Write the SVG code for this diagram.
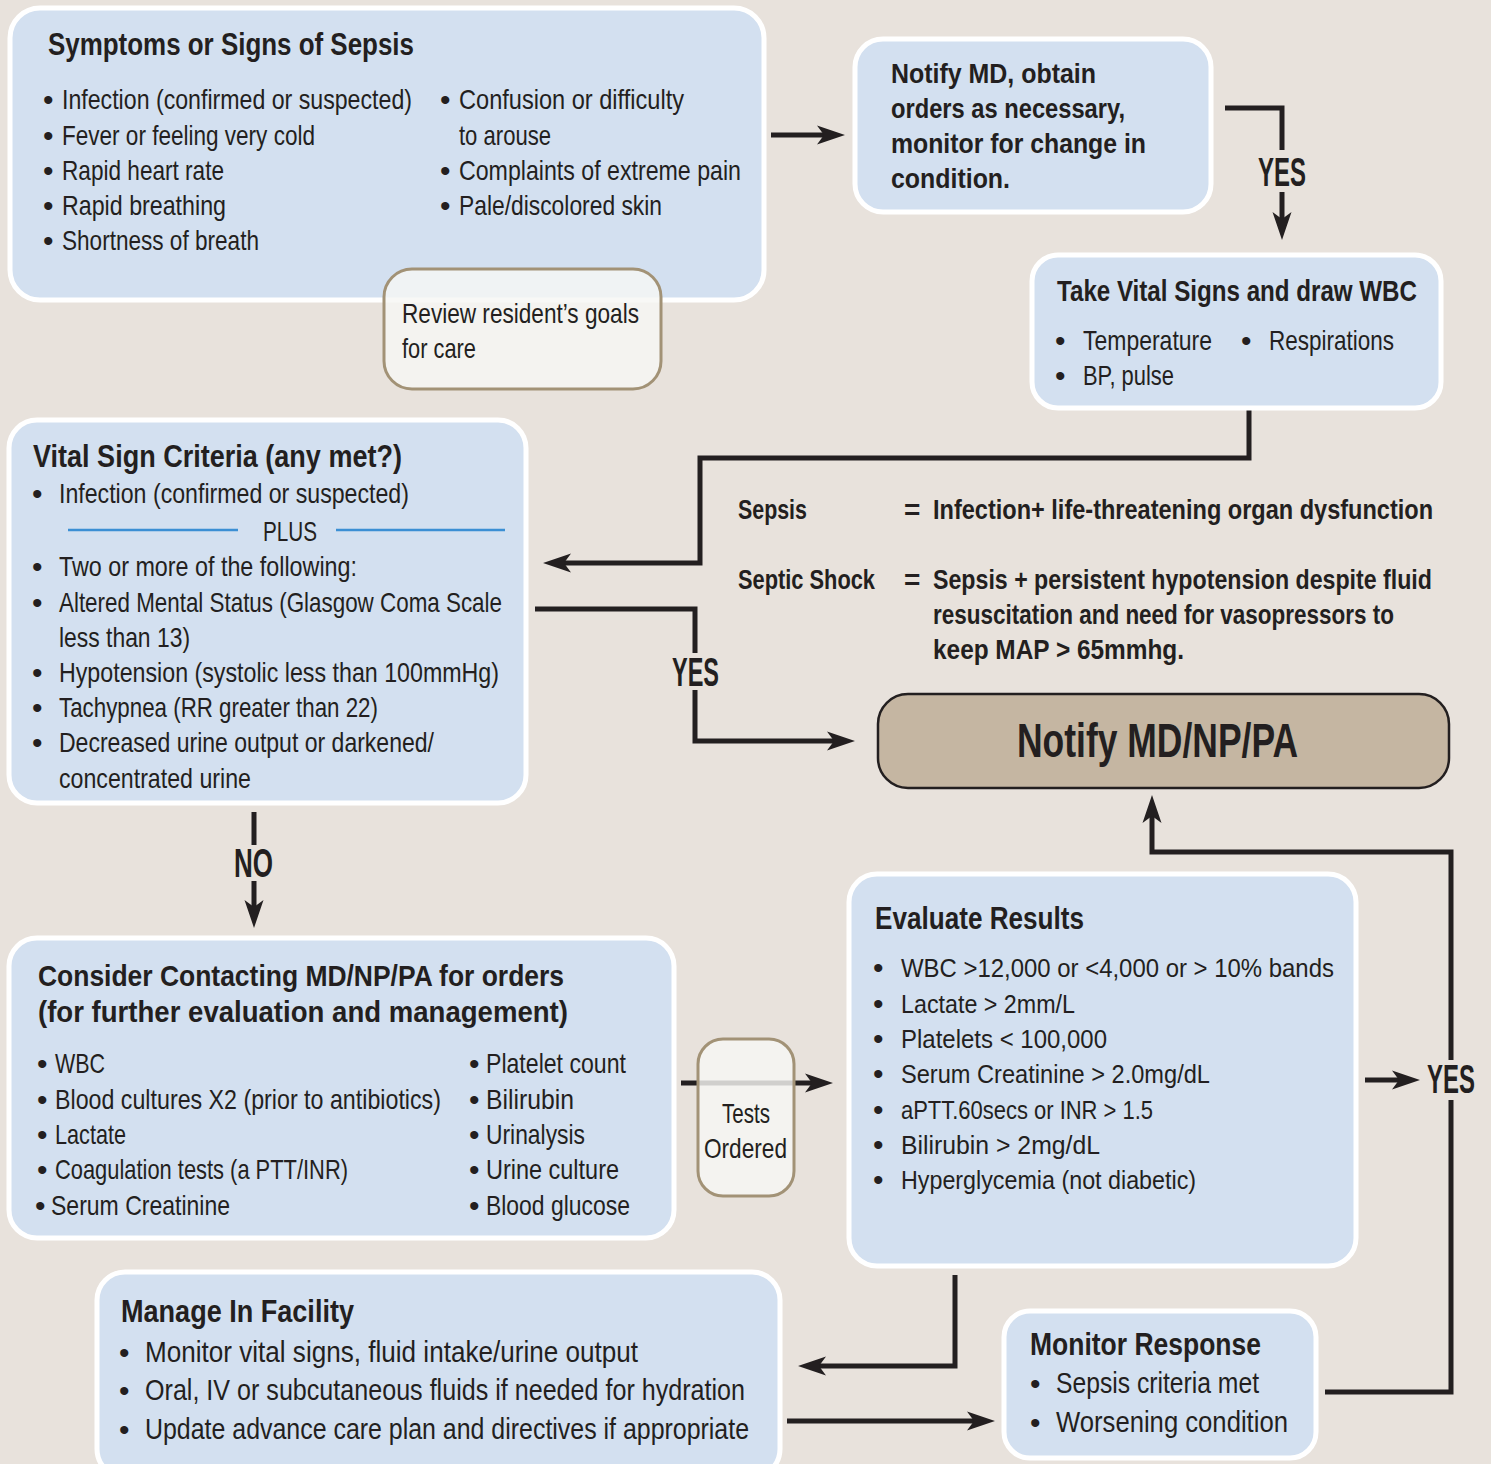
<svg xmlns="http://www.w3.org/2000/svg" width="1491" height="1464" viewBox="0 0 1491 1464">
<style>
.t{font-family:"Liberation Sans",Arial,sans-serif;fill:#231f20}
.b{font-weight:bold}
.box{fill:#d3e0f0;stroke:#fff;stroke-width:5}
.note{fill:#f7f6f4;fill-opacity:0.82;stroke:#a29276;stroke-width:3}
.c{fill:none;stroke:#231f20;stroke-width:5}
.s28{font-size:28px}.s27{font-size:27px}.s25{font-size:25px}.s30{font-size:30px}.s31{font-size:31px}.s29{font-size:29px}
.bu{font-family:"Liberation Sans",Arial,sans-serif;fill:#231f20;font-size:30px}
.lbl{font-size:40px;font-weight:bold}
</style>
<defs>
<marker id="ah" markerUnits="userSpaceOnUse" viewBox="0 0 28 24" refX="14" refY="12" markerWidth="28" markerHeight="24" orient="auto">
<path d="M0,2.5 L28,12 L0,21.5 L7,12 Z" fill="#231f20"/>
</marker>
</defs>
<rect x="0" y="0" width="1491" height="1464" fill="#e8e2dc"/>

<g id="connectors">
<path class="c" d="M771,135 H831" marker-end="url(#ah)"/>
<path class="c" d="M1225,108 H1282 V150"/>
<path class="c" d="M1282,192 V226" marker-end="url(#ah)"/>
<text class="t lbl" x="1258" y="186" transform="matrix(0.82,0,0,1,226.44,0)" textLength="58.5" lengthAdjust="spacingAndGlyphs">YES</text>
<path class="c" d="M1249,410 V458 H700 V563 H557" marker-end="url(#ah)"/>
<path class="c" d="M535,609 H695 V653"/>
<path class="c" d="M695,690 V741 H841" marker-end="url(#ah)"/>
<text class="t lbl" x="672" y="686" transform="matrix(0.82,0,0,1,120.96,0)" textLength="57.3" lengthAdjust="spacingAndGlyphs">YES</text>
<path class="c" d="M254,812 V845"/>
<path class="c" d="M254,881 V914" marker-end="url(#ah)"/>
<text class="t lbl" x="234" y="877" transform="matrix(0.82,0,0,1,42.12,0)" textLength="47.6" lengthAdjust="spacingAndGlyphs">NO</text>
<path class="c" d="M681,1083 H819" marker-end="url(#ah)"/>
<path class="c" d="M955,1275 V1366 H812" marker-end="url(#ah)"/>
<path class="c" d="M787,1421 H981" marker-end="url(#ah)"/>
<path class="c" d="M1325,1392 H1451 V1100"/>
<path class="c" d="M1451,1060 V852 H1152 V809" marker-end="url(#ah)"/>
<path class="c" d="M1365,1080 H1406" marker-end="url(#ah)"/>
<text class="t lbl" x="1427" y="1093" transform="matrix(0.82,0,0,1,256.86,0)" textLength="58.5" lengthAdjust="spacingAndGlyphs">YES</text>
</g>

<g id="symptoms">
<rect class="box" x="10" y="8" width="754" height="292" rx="30"/>
<text class="t b" font-size="32" x="48" y="55" transform="matrix(0.82,0,0,1,8.64,0)" textLength="446.3" lengthAdjust="spacingAndGlyphs">Symptoms or Signs of Sepsis</text>
<text class="bu" x="43" y="110">•</text><text class="t s28" x="62" y="109" transform="matrix(0.82,0,0,1,11.16,0)" textLength="426.8" lengthAdjust="spacingAndGlyphs">Infection (confirmed or suspected)</text>
<text class="bu" x="43" y="146">•</text><text class="t s28" x="62" y="145" transform="matrix(0.82,0,0,1,11.16,0)" textLength="308.5" lengthAdjust="spacingAndGlyphs">Fever or feeling very cold</text>
<text class="bu" x="43" y="181">•</text><text class="t s28" x="62" y="180" transform="matrix(0.82,0,0,1,11.16,0)" textLength="197.6" lengthAdjust="spacingAndGlyphs">Rapid heart rate</text>
<text class="bu" x="43" y="216">•</text><text class="t s28" x="62" y="215" transform="matrix(0.82,0,0,1,11.16,0)" textLength="200" lengthAdjust="spacingAndGlyphs">Rapid breathing</text>
<text class="bu" x="43" y="251">•</text><text class="t s28" x="62" y="250" transform="matrix(0.82,0,0,1,11.16,0)" textLength="240.2" lengthAdjust="spacingAndGlyphs">Shortness of breath</text>
<text class="bu" x="440" y="110">•</text><text class="t s28" x="459" y="109" transform="matrix(0.82,0,0,1,82.62,0)" textLength="274.4" lengthAdjust="spacingAndGlyphs">Confusion or difficulty</text>
<text class="t s28" x="459" y="145" transform="matrix(0.82,0,0,1,82.62,0)" textLength="112.2" lengthAdjust="spacingAndGlyphs">to arouse</text>
<text class="bu" x="440" y="181">•</text><text class="t s28" x="459" y="180" transform="matrix(0.82,0,0,1,82.62,0)" textLength="343.9" lengthAdjust="spacingAndGlyphs">Complaints of extreme pain</text>
<text class="bu" x="440" y="216">•</text><text class="t s28" x="459" y="215" transform="matrix(0.82,0,0,1,82.62,0)" textLength="247.6" lengthAdjust="spacingAndGlyphs">Pale/discolored skin</text>
</g>

<g id="review-goals">
<rect class="note" x="384" y="269" width="277" height="120" rx="28"/>
<text class="t s27" x="402" y="323" transform="matrix(0.82,0,0,1,72.36,0)" textLength="289" lengthAdjust="spacingAndGlyphs">Review resident’s goals</text>
<text class="t s27" x="402" y="358" transform="matrix(0.82,0,0,1,72.36,0)" textLength="90.2" lengthAdjust="spacingAndGlyphs">for care</text>
</g>

<g id="notify-md">
<rect class="box" x="855" y="39" width="356" height="173" rx="28"/>
<text class="t b s28" x="891" y="83" transform="matrix(0.82,0,0,1,160.38,0)" textLength="250" lengthAdjust="spacingAndGlyphs">Notify MD, obtain</text>
<text class="t b s28" x="891" y="118" transform="matrix(0.82,0,0,1,160.38,0)" textLength="285.4" lengthAdjust="spacingAndGlyphs">orders as necessary,</text>
<text class="t b s28" x="891" y="153" transform="matrix(0.82,0,0,1,160.38,0)" textLength="311" lengthAdjust="spacingAndGlyphs">monitor for change in</text>
<text class="t b s28" x="891" y="188" transform="matrix(0.82,0,0,1,160.38,0)" textLength="145.1" lengthAdjust="spacingAndGlyphs">condition.</text>
</g>

<g id="take-vitals">
<rect class="box" x="1032" y="255" width="409" height="153" rx="26"/>
<text class="t b s30" x="1057" y="301" transform="matrix(0.82,0,0,1,190.26,0)" textLength="439" lengthAdjust="spacingAndGlyphs">Take Vital Signs and draw WBC</text>
<text class="bu" x="1055" y="351">•</text><text class="t s28" x="1083" y="350" transform="matrix(0.82,0,0,1,194.94,0)" textLength="157.3" lengthAdjust="spacingAndGlyphs">Temperature</text>
<text class="bu" x="1241" y="351">•</text><text class="t s28" x="1269" y="350" transform="matrix(0.82,0,0,1,228.42,0)" textLength="152.4" lengthAdjust="spacingAndGlyphs">Respirations</text>
<text class="bu" x="1055" y="386">•</text><text class="t s28" x="1083" y="385" transform="matrix(0.82,0,0,1,194.94,0)" textLength="111" lengthAdjust="spacingAndGlyphs">BP, pulse</text>
</g>

<g id="vital-criteria">
<rect class="box" x="9" y="420" width="517" height="383" rx="28"/>
<text class="t b s31" x="33" y="467" transform="matrix(0.82,0,0,1,5.94,0)" textLength="450" lengthAdjust="spacingAndGlyphs">Vital Sign Criteria (any met?)</text>
<text class="bu" x="32" y="504">•</text><text class="t s28" x="59" y="503" transform="matrix(0.82,0,0,1,10.62,0)" textLength="426.8" lengthAdjust="spacingAndGlyphs">Infection (confirmed or suspected)</text>
<line x1="68" y1="530" x2="238" y2="530" stroke="#3b8fd4" stroke-width="2.5"/>
<line x1="336" y1="530" x2="505" y2="530" stroke="#3b8fd4" stroke-width="2.5"/>
<text class="t s28" x="263" y="541" transform="matrix(0.82,0,0,1,47.34,0)" textLength="65.9" lengthAdjust="spacingAndGlyphs">PLUS</text>
<text class="bu" x="32" y="577">•</text><text class="t s28" x="59" y="576" transform="matrix(0.82,0,0,1,10.62,0)" textLength="363.4" lengthAdjust="spacingAndGlyphs">Two or more of the following:</text>
<text class="bu" x="32" y="613">•</text><text class="t s28" x="59" y="612" transform="matrix(0.82,0,0,1,10.62,0)" textLength="540.2" lengthAdjust="spacingAndGlyphs">Altered Mental Status (Glasgow Coma Scale</text>
<text class="t s28" x="59" y="647" transform="matrix(0.82,0,0,1,10.62,0)" textLength="159.8" lengthAdjust="spacingAndGlyphs">less than 13)</text>
<text class="bu" x="32" y="683">•</text><text class="t s28" x="59" y="682" transform="matrix(0.82,0,0,1,10.62,0)" textLength="536.6" lengthAdjust="spacingAndGlyphs">Hypotension (systolic less than 100mmHg)</text>
<text class="bu" x="32" y="718">•</text><text class="t s28" x="59" y="717" transform="matrix(0.82,0,0,1,10.62,0)" textLength="389" lengthAdjust="spacingAndGlyphs">Tachypnea (RR greater than 22)</text>
<text class="bu" x="32" y="753">•</text><text class="t s28" x="59" y="752" transform="matrix(0.82,0,0,1,10.62,0)" textLength="457.3" lengthAdjust="spacingAndGlyphs">Decreased urine output or darkened/</text>
<text class="t s28" x="59" y="788" transform="matrix(0.82,0,0,1,10.62,0)" textLength="234.1" lengthAdjust="spacingAndGlyphs">concentrated urine</text>
</g>

<g id="definitions">
<text class="t b s28" x="738" y="519" transform="matrix(0.82,0,0,1,132.84,0)" textLength="84.1" lengthAdjust="spacingAndGlyphs">Sepsis</text>
<text class="t b s28" x="904" y="519">=</text>
<text class="t b s28" x="933" y="519" transform="matrix(0.82,0,0,1,167.94,0)" textLength="609.8" lengthAdjust="spacingAndGlyphs">Infection+ life-threatening organ dysfunction</text>
<text class="t b s28" x="738" y="589" transform="matrix(0.82,0,0,1,132.84,0)" textLength="167.1" lengthAdjust="spacingAndGlyphs">Septic Shock</text>
<text class="t b s28" x="904" y="589">=</text>
<text class="t b s28" x="933" y="589" transform="matrix(0.82,0,0,1,167.94,0)" textLength="608.5" lengthAdjust="spacingAndGlyphs">Sepsis + persistent hypotension despite fluid</text>
<text class="t b s28" x="933" y="624" transform="matrix(0.82,0,0,1,167.94,0)" textLength="562.2" lengthAdjust="spacingAndGlyphs">resuscitation and need for vasopressors to</text>
<text class="t b s28" x="933" y="659" transform="matrix(0.82,0,0,1,167.94,0)" textLength="306.1" lengthAdjust="spacingAndGlyphs">keep MAP &gt; 65mmhg.</text>
</g>

<g id="notify-md-np-pa">
<rect x="878" y="694" width="571" height="94" rx="30" fill="#c5b6a2" stroke="#231f20" stroke-width="2.5"/>
<text class="t b" font-size="48" x="1017" y="757" transform="matrix(0.82,0,0,1,183.06,0)" textLength="342.7" lengthAdjust="spacingAndGlyphs">Notify MD/NP/PA</text>
</g>

<g id="consider-contacting">
<rect class="box" x="9" y="938" width="665" height="300" rx="28"/>
<text class="t b s30" x="38" y="986" transform="matrix(0.82,0,0,1,6.84,0)" textLength="641.5" lengthAdjust="spacingAndGlyphs">Consider Contacting MD/NP/PA for orders</text>
<text class="t b s30" x="38" y="1022" transform="matrix(0.82,0,0,1,6.84,0)" textLength="646.3" lengthAdjust="spacingAndGlyphs">(for further evaluation and management)</text>
<text class="bu" x="37" y="1074">•</text><text class="t s28" x="55" y="1073" transform="matrix(0.82,0,0,1,9.9,0)" textLength="61" lengthAdjust="spacingAndGlyphs">WBC</text>
<text class="bu" x="37" y="1110">•</text><text class="t s28" x="55" y="1109" transform="matrix(0.82,0,0,1,9.9,0)" textLength="470.7" lengthAdjust="spacingAndGlyphs">Blood cultures X2 (prior to antibiotics)</text>
<text class="bu" x="37" y="1145">•</text><text class="t s28" x="55" y="1144" transform="matrix(0.82,0,0,1,9.9,0)" textLength="86.6" lengthAdjust="spacingAndGlyphs">Lactate</text>
<text class="bu" x="37" y="1180">•</text><text class="t s28" x="55" y="1179" transform="matrix(0.82,0,0,1,9.9,0)" textLength="357.3" lengthAdjust="spacingAndGlyphs">Coagulation tests (a PTT/INR)</text>
<text class="bu" x="35" y="1216">•</text><text class="t s28" x="51" y="1215" transform="matrix(0.82,0,0,1,9.18,0)" textLength="218.3" lengthAdjust="spacingAndGlyphs">Serum Creatinine</text>
<text class="bu" x="469" y="1074">•</text><text class="t s28" x="486" y="1073" transform="matrix(0.82,0,0,1,87.48,0)" textLength="170.7" lengthAdjust="spacingAndGlyphs">Platelet count</text>
<text class="bu" x="469" y="1110">•</text><text class="t s28" x="486" y="1109" transform="matrix(0.82,0,0,1,87.48,0)" textLength="107.3" lengthAdjust="spacingAndGlyphs">Bilirubin</text>
<text class="bu" x="469" y="1145">•</text><text class="t s28" x="486" y="1144" transform="matrix(0.82,0,0,1,87.48,0)" textLength="120.7" lengthAdjust="spacingAndGlyphs">Urinalysis</text>
<text class="bu" x="469" y="1180">•</text><text class="t s28" x="486" y="1179" transform="matrix(0.82,0,0,1,87.48,0)" textLength="162.2" lengthAdjust="spacingAndGlyphs">Urine culture</text>
<text class="bu" x="469" y="1216">•</text><text class="t s28" x="486" y="1215" transform="matrix(0.82,0,0,1,87.48,0)" textLength="175.6" lengthAdjust="spacingAndGlyphs">Blood glucose</text>
</g>

<g id="tests-ordered">
<rect class="note" x="698" y="1039" width="96" height="157" rx="25"/>
<text class="t s27" x="722" y="1123" transform="matrix(0.82,0,0,1,129.96,0)" textLength="58.5" lengthAdjust="spacingAndGlyphs">Tests</text>
<text class="t s27" x="704" y="1158" transform="matrix(0.82,0,0,1,126.72,0)" textLength="101.2" lengthAdjust="spacingAndGlyphs">Ordered</text>
</g>

<g id="evaluate-results">
<rect class="box" x="849" y="874" width="507" height="392" rx="28"/>
<text class="t b s31" x="875" y="929" transform="matrix(0.82,0,0,1,157.5,0)" textLength="254.9" lengthAdjust="spacingAndGlyphs">Evaluate Results</text>
<text class="bu" x="873" y="978">•</text><text class="t s25" x="901" y="977" transform="matrix(0.82,0,0,1,162.18,0)" textLength="528" lengthAdjust="spacingAndGlyphs">WBC &gt;12,000 or &lt;4,000 or &gt; 10% bands</text>
<text class="bu" x="873" y="1014">•</text><text class="t s25" x="901" y="1013" transform="matrix(0.82,0,0,1,162.18,0)" textLength="212.2" lengthAdjust="spacingAndGlyphs">Lactate &gt; 2mm/L</text>
<text class="bu" x="873" y="1049">•</text><text class="t s25" x="901" y="1048" transform="matrix(0.82,0,0,1,162.18,0)" textLength="251.2" lengthAdjust="spacingAndGlyphs">Platelets &lt; 100,000</text>
<text class="bu" x="873" y="1084">•</text><text class="t s25" x="901" y="1083" transform="matrix(0.82,0,0,1,162.18,0)" textLength="376.8" lengthAdjust="spacingAndGlyphs">Serum Creatinine &gt; 2.0mg/dL</text>
<text class="bu" x="873" y="1120">•</text><text class="t s25" x="901" y="1119" transform="matrix(0.82,0,0,1,162.18,0)" textLength="307.3" lengthAdjust="spacingAndGlyphs">aPTT.60secs or INR &gt; 1.5</text>
<text class="bu" x="873" y="1155">•</text><text class="t s25" x="901" y="1154" transform="matrix(0.82,0,0,1,162.18,0)" textLength="242.7" lengthAdjust="spacingAndGlyphs">Bilirubin &gt; 2mg/dL</text>
<text class="bu" x="873" y="1190">•</text><text class="t s25" x="901" y="1189" transform="matrix(0.82,0,0,1,162.18,0)" textLength="359.8" lengthAdjust="spacingAndGlyphs">Hyperglycemia (not diabetic)</text>
</g>

<g id="manage-in-facility">
<rect class="box" x="97" y="1272" width="683" height="205" rx="28"/>
<text class="t b s31" x="121" y="1322" transform="matrix(0.82,0,0,1,21.78,0)" textLength="284.1" lengthAdjust="spacingAndGlyphs">Manage In Facility</text>
<text class="bu" x="119" y="1363">•</text><text class="t s30" x="145" y="1362" transform="matrix(0.82,0,0,1,26.1,0)" textLength="601.2" lengthAdjust="spacingAndGlyphs">Monitor vital signs, fluid intake/urine output</text>
<text class="bu" x="119" y="1401">•</text><text class="t s30" x="145" y="1400" transform="matrix(0.82,0,0,1,26.1,0)" textLength="731.7" lengthAdjust="spacingAndGlyphs">Oral, IV or subcutaneous fluids if needed for hydration</text>
<text class="bu" x="119" y="1440">•</text><text class="t s30" x="145" y="1439" transform="matrix(0.82,0,0,1,26.1,0)" textLength="736.6" lengthAdjust="spacingAndGlyphs">Update advance care plan and directives if appropriate</text>
</g>

<g id="monitor-response">
<rect class="box" x="1004" y="1311" width="312" height="147" rx="26"/>
<text class="t b s31" x="1030" y="1355" transform="matrix(0.82,0,0,1,185.4,0)" textLength="281.7" lengthAdjust="spacingAndGlyphs">Monitor Response</text>
<text class="bu" x="1030" y="1394">•</text><text class="t s29" x="1056" y="1393" transform="matrix(0.82,0,0,1,190.08,0)" textLength="247.6" lengthAdjust="spacingAndGlyphs">Sepsis criteria met</text>
<text class="bu" x="1030" y="1433">•</text><text class="t s29" x="1056" y="1432" transform="matrix(0.82,0,0,1,190.08,0)" textLength="282.9" lengthAdjust="spacingAndGlyphs">Worsening condition</text>
</g>
</svg>
